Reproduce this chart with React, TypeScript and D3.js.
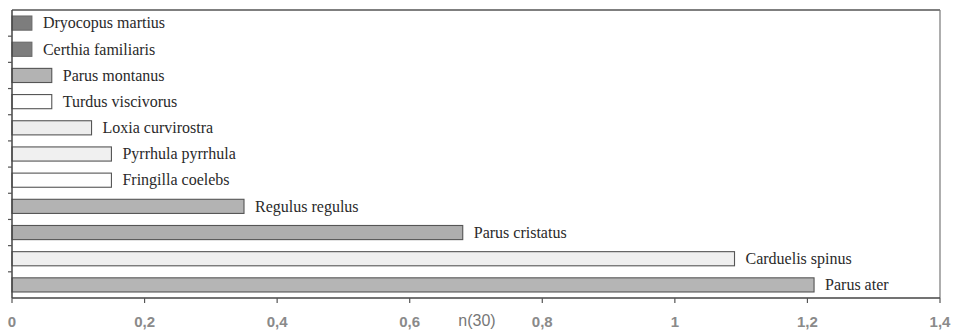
import React from "react";
import * as d3 from "d3";

const species = [
  "Dryocopus martius",
  "Certhia familiaris",
  "Parus montanus",
  "Turdus viscivorus",
  "Loxia curvirostra",
  "Pyrrhula pyrrhula",
  "Fringilla coelebs",
  "Regulus regulus",
  "Parus cristatus",
  "Carduelis spinus",
  "Parus ater",
];
const values = [0.03, 0.03, 0.06, 0.06, 0.12, 0.15, 0.15, 0.35, 0.68, 1.09, 1.21];
const fills = [
  "#7d7d7d", "#7d7d7d", "#b3b3b3", "#ffffff", "#ededed", "#f0f0f0",
  "#ffffff", "#b3b3b3", "#aeaeae", "#efefef", "#b5b5b5",
];
const xTicks = [0, 0.2, 0.4, 0.6, 0.8, 1, 1.2, 1.4];
const axisTitle = "n(30)";

export default function App() {
  const W = 953, H = 336;
  const left = 12, right = 940, top = 10, bottom = 298;
  const x = d3.scaleLinear().domain([0, 1.4]).range([left, right]);
  const y = d3.scaleBand<string>().domain(species).range([top, bottom]).paddingInner(0.46).paddingOuter(0.23);
  const fmt = (v: number) => String(v).replace(".", ",");
  const bandStep = (bottom - top) / species.length;
  const serif = { fontFamily: '"Liberation Serif", "Times New Roman", "DejaVu Serif", serif' };
  const sans = { fontFamily: '"Liberation Sans", Arial, sans-serif' };
  return (
    <svg width={W} height={H} style={{ position: "absolute", left: 0, top: 0, background: "#fff" }}>
      <line x1={left} x2={right} y1={top} y2={top} stroke="#555" strokeWidth={1.5} />
      <line x1={right} x2={right} y1={top} y2={bottom} stroke="#777" strokeWidth={1.2} />
      {species.map((s, i) => (
        <g key={s}>
          <rect
            x={x(0)}
            y={y(s)!}
            width={x(values[i]) - x(0)}
            height={y.bandwidth()}
            fill={fills[i]}
            stroke={i < 2 ? "#6a6a6a" : "#555"}
            strokeWidth={1.1}
          />
          <text
            x={x(values[i]) + 11}
            y={y(s)! + y.bandwidth() / 2}
            dy="0.33em"
            style={serif}
            fontSize={16}
            fill="#2a2a2a"
          >
            {s}
          </text>
        </g>
      ))}
      <line x1={left} x2={left} y1={top} y2={bottom} stroke="#444" strokeWidth={1.5} />
      {d3.range(1, species.length).map((k) => (
        <line key={k} x1={left - 4} x2={left} y1={top + k * bandStep} y2={top + k * bandStep} stroke="#555" strokeWidth={1.2} />
      ))}
      <line x1={left} x2={right} y1={bottom} y2={bottom} stroke="#444" strokeWidth={1.5} />
      {xTicks.map((t) => (
        <g key={t}>
          <line x1={x(t)} x2={x(t)} y1={bottom} y2={bottom + 5} stroke="#555" strokeWidth={1.2} />
          <text
            x={x(t)}
            y={327}
            textAnchor="middle"
            style={sans}
            fontWeight="bold"
            fontSize={15}
            fill="#8a8a8a"
          >
            {fmt(t)}
          </text>
        </g>
      ))}
      <text x={477} y={326} textAnchor="middle" style={sans} fontSize={16} fill="#777">
        {axisTitle}
      </text>
    </svg>
  );
}
